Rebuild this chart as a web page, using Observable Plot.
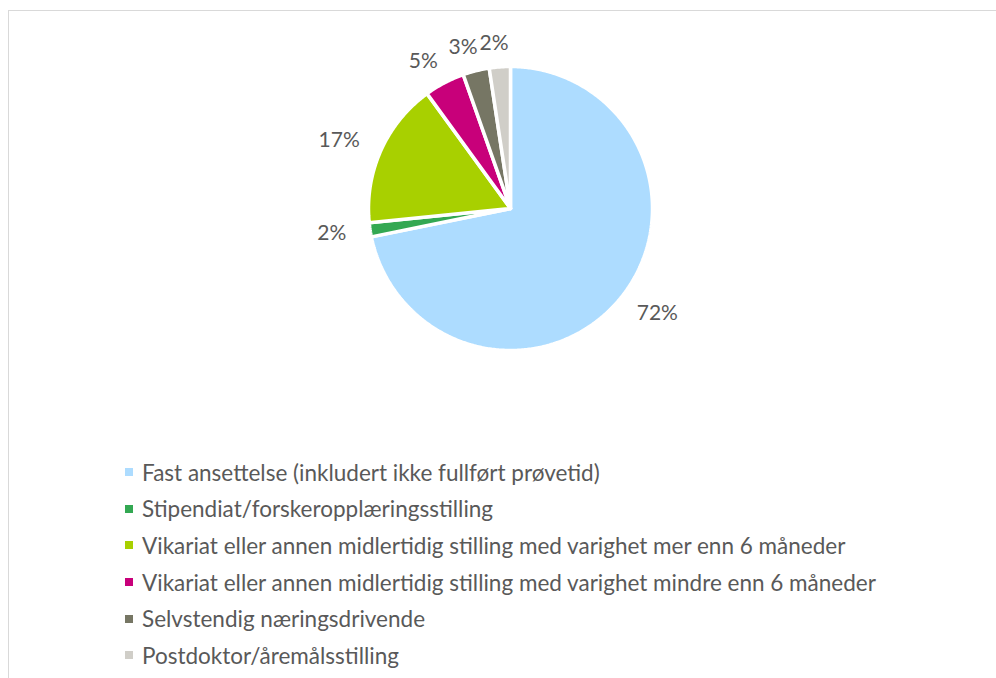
<!DOCTYPE html>
<html>
<head>
<meta charset="utf-8">
<script src="https://cdn.jsdelivr.net/npm/d3@7"></script>
<script src="https://cdn.jsdelivr.net/npm/@observablehq/plot@0.6"></script>
<style>
  html, body { margin: 0; padding: 0; background: #fff; }
  body { width: 996px; height: 678px; overflow: hidden; position: relative; font-family: Lato, "Open Sans", sans-serif; }
  #frame { position: absolute; left: 8px; top: 10px; width: 1000px; height: 700px; border-left: 1.5px solid #d9d9d9; border-top: 1.5px solid #d9d9d9; }
  #chart { position: absolute; left: 0; top: 0; }
  #legend { position: absolute; left: 125px; top: 454px; }
  .item { display: flex; align-items: center; height: 36.6px; font-size: 22.5px; color: #595959; }
  .sw { width: 8px; height: 8px; margin-right: 9px; flex: none; }
</style>
</head>
<body>
<div id="frame"></div>
<div id="chart"></div>
<div id="legend"></div>
<script>
const categories = [
  "Fast ansettelse (inkludert ikke fullført prøvetid)",
  "Stipendiat/forskeropplæringsstilling",
  "Vikariat eller annen midlertidig stilling med varighet mer enn 6 måneder",
  "Vikariat eller annen midlertidig stilling med varighet mindre enn 6 måneder",
  "Selvstendig næringsdrivende",
  "Postdoktor/åremålsstilling"
];
const shares = [71.8, 1.6, 16.6, 4.6, 3.0, 2.4];
const colors = ["#ADDCFF", "#33A852", "#A8D000", "#C8007A", "#767664", "#D0CEC8"];

const data = categories.map((c, i) => ({category: c, value: shares[i]}));
const total = d3.sum(shares);
const arcs = d3.pie().sort(null).value(d => d.value)(data);

const W = 996, H = 430, R = 142, cx = 510, cy = 208;
const FONT = "Lato, 'Open Sans', sans-serif", FS = 21;

// polygon outline of each slice (angles from 12 o'clock, clockwise), unit radius
const pts = [];
arcs.forEach(a => {
  const key = a.data.category;
  pts.push({key, x: 0, y: 0});
  const n = Math.max(2, Math.ceil((a.endAngle - a.startAngle) / 0.01));
  for (let k = 0; k <= n; k++) {
    const t = a.startAngle + (a.endAngle - a.startAngle) * k / n;
    pts.push({key, x: Math.sin(t), y: Math.cos(t)});
  }
  pts.push({key, x: 0, y: 0});
});

// outside labels: anchor just beyond the rim, text box pushed away from the pie
const ctx = document.createElement("canvas").getContext("2d");
ctx.font = `${FS}px ${FONT}`;
const r0 = 1.17;
const labels = arcs.map(a => {
  const m = (a.startAngle + a.endAngle) / 2;
  const s = Math.sin(m), c = Math.cos(m);
  const text = Math.round(a.data.value / total * 100) + "%";
  const half = ctx.measureText(text).width / 2 / R;
  return {x: r0 * s + Math.sign(s) * Math.sqrt(Math.abs(s)) * half, y: r0 * c, text};
});

const chart = Plot.plot({
  width: W, height: H, margin: 0,
  style: {background: "transparent", fontFamily: FONT},
  x: {domain: [-cx / R, (W - cx) / R], axis: null},
  y: {domain: [-(H - cy) / R, cy / R], axis: null},
  color: {domain: categories, range: colors},
  marks: [
    Plot.line(pts, {x: "x", y: "y", z: "key", fill: "key", stroke: "white", strokeWidth: 3.5, strokeLinejoin: "miter", curve: "linear"}),
    Plot.text(labels, {x: "x", y: "y", text: "text", fill: "#595959", fontSize: FS})
  ]
});
document.getElementById("chart").appendChild(chart);

const legend = document.getElementById("legend");
categories.forEach((c, i) => {
  const div = document.createElement("div");
  div.className = "item";
  const sw = document.createElement("span");
  sw.className = "sw";
  sw.style.background = colors[i];
  const tx = document.createElement("span");
  tx.textContent = c;
  div.appendChild(sw);
  div.appendChild(tx);
  legend.appendChild(div);
});
</script>
</body>
</html>
